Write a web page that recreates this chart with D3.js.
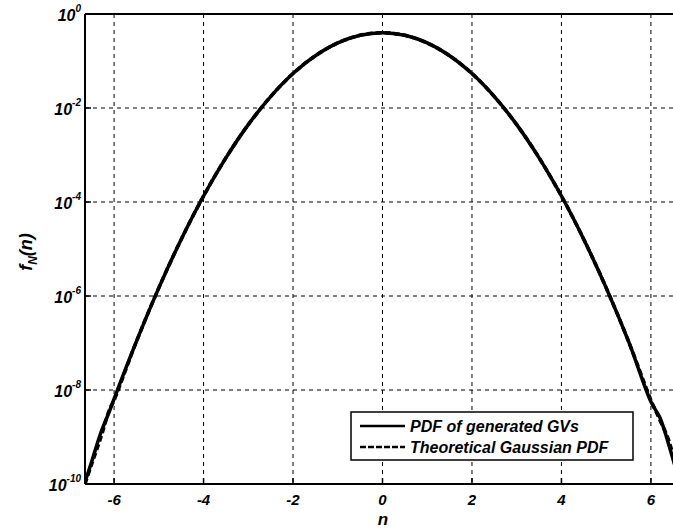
<!DOCTYPE html>
<html>
<head>
  <meta charset="utf-8">
  <style>
    body { margin: 0; background: #fff; }
    svg { display: block; font-family: "Liberation Sans", Arial, sans-serif; }
    .tick-label { font-weight: bold; font-style: italic; }
  </style>
</head>
<body>
  <svg width="673" height="529"></svg>
  <script src="https://cdn.jsdelivr.net/npm/d3@7"></script>
  <script>
    // n values
    var nValues = [-6.65, -6.5, -6.3, -6.1, -6, -5.5, -5, -4.5, -4, -3.5, -3, -2.5, -2, -1.5, -1, -0.5, 0,
      0.5, 1, 1.5, 2, 2.5, 3, 3.5, 4, 4.5, 5, 5.5, 6, 6.2, 6.4, 6.65];
    // PDF of generated GVs
    var generatedPdf = [1.1e-10, 3.0e-10, 1.2e-9, 3.6e-9, 6.5e-9, 1.08e-7, 1.49e-6, 1.6e-5, 1.34e-4, 8.7e-4, 4.43e-3, 1.75e-2, 5.4e-2, 0.1295, 0.242, 0.352, 0.399,
      0.352, 0.242, 0.1295, 5.4e-2, 1.75e-2, 4.43e-3, 8.7e-4, 1.34e-4, 1.6e-5, 1.49e-6, 1.08e-7, 5.6e-9, 2.6e-9, 6.8e-10, 1.0e-10];
    // theoretical Gaussian PDF
    var theoreticalPdf = [1.0e-10, 2.67e-10, 9.5e-10, 3.9e-9, 6.08e-9, 1.08e-7, 1.49e-6, 1.6e-5, 1.34e-4, 8.73e-4, 4.43e-3, 1.75e-2, 5.4e-2, 0.1295, 0.242, 0.352, 0.399,
      0.352, 0.242, 0.1295, 5.4e-2, 1.75e-2, 4.43e-3, 8.73e-4, 1.34e-4, 1.6e-5, 1.49e-6, 1.08e-7, 6.08e-9, 2.3e-9, 8.4e-10, 1.0e-10];
    var xTicks = [-6, -4, -2, 0, 2, 4, 6];
    var yExponents = [0, -2, -4, -6, -8, -10];
    var legendLabels = ["PDF of generated GVs", "Theoretical Gaussian PDF"];

    var svg = d3.select("svg");
    var plotLeft = 85, plotTop = 14, plotRight = 680, plotBottom = 484;

    var x = d3.scaleLinear().domain([-6.65, 6.65]).range([plotLeft, plotRight]);
    var y = d3.scaleLog().domain([1e-10, 1]).range([plotBottom, plotTop]);

    // grid
    var grid = svg.append("g").attr("stroke", "#000").attr("stroke-width", 1).attr("stroke-dasharray", "4,4");
    grid.selectAll(".gx").data(xTicks).enter().append("line")
      .attr("x1", function (d) { return x(d); }).attr("x2", function (d) { return x(d); })
      .attr("y1", plotTop).attr("y2", plotBottom);
    grid.selectAll(".gy").data(yExponents.slice(1, -1)).enter().append("line")
      .attr("x1", plotLeft).attr("x2", plotRight)
      .attr("y1", function (d) { return y(Math.pow(10, d)); })
      .attr("y2", function (d) { return y(Math.pow(10, d)); });

    // axes frame
    svg.append("line").attr("x1", plotLeft).attr("x2", plotLeft).attr("y1", plotTop).attr("y2", plotBottom)
      .attr("stroke", "#000").attr("stroke-width", 2);
    svg.append("line").attr("x1", plotLeft).attr("x2", plotRight).attr("y1", plotTop).attr("y2", plotTop)
      .attr("stroke", "#000").attr("stroke-width", 2);
    svg.append("line").attr("x1", plotLeft).attr("x2", plotRight).attr("y1", plotBottom).attr("y2", plotBottom)
      .attr("stroke", "#000").attr("stroke-width", 2);

    // x ticks
    var xt = svg.append("g");
    xt.selectAll("line").data(xTicks).enter().append("line")
      .attr("x1", function (d) { return x(d); }).attr("x2", function (d) { return x(d); })
      .attr("y1", plotBottom).attr("y2", plotBottom - 6).attr("stroke", "#000").attr("stroke-width", 1.5);
    xt.selectAll("text").data(xTicks).enter().append("text")
      .attr("class", "tick-label")
      .attr("x", function (d) { return x(d); })
      .attr("y", 505)
      .attr("text-anchor", "middle")
      .attr("font-size", 15)
      .text(function (d) { return d; });

    // y ticks
    var yt = svg.append("g");
    yt.selectAll("line").data(yExponents).enter().append("line")
      .attr("x1", plotLeft).attr("x2", plotLeft + 6)
      .attr("y1", function (d) { return y(Math.pow(10, d)); })
      .attr("y2", function (d) { return y(Math.pow(10, d)); })
      .attr("stroke", "#000").attr("stroke-width", 1.5);
    var yl = yt.selectAll("text").data(yExponents).enter().append("text")
      .attr("class", "tick-label")
      .attr("x", 81)
      .attr("y", function (d) { return y(Math.pow(10, d)) + 7; })
      .attr("text-anchor", "end")
      .attr("font-size", 16);
    yl.append("tspan").text("10");
    yl.append("tspan").attr("dy", -9).attr("font-size", 10).text(function (d) { return d; });

    // curves
    var line = d3.line()
      .x(function (d) { return x(d[0]); })
      .y(function (d) { return y(d[1]); })
      .curve(d3.curveCatmullRom);

    svg.append("clipPath").attr("id", "plot").append("rect")
      .attr("x", plotLeft).attr("y", plotTop).attr("width", plotRight - plotLeft).attr("height", plotBottom - plotTop);

    svg.append("path")
      .datum(nValues.map(function (n, i) { return [n, theoreticalPdf[i]]; }))
      .attr("clip-path", "url(#plot)")
      .attr("fill", "none").attr("stroke", "#000").attr("stroke-width", 3.5)
      .attr("stroke-dasharray", "6,3")
      .attr("d", line);
    svg.append("path")
      .datum(nValues.map(function (n, i) { return [n, generatedPdf[i]]; }))
      .attr("clip-path", "url(#plot)")
      .attr("fill", "none").attr("stroke", "#000").attr("stroke-width", 3.5)
      .attr("d", line);

    // legend
    var legend = svg.append("g").attr("transform", "translate(351,412)");
    legend.append("rect").attr("width", 282).attr("height", 48)
      .attr("fill", "#fff").attr("stroke", "#000").attr("stroke-width", 1.5);
    var item = legend.selectAll(".item").data(legendLabels).enter().append("g")
      .attr("transform", function (d, i) { return "translate(0," + (14 + i * 21) + ")"; });
    item.append("line").attr("x1", 9).attr("x2", 54).attr("y1", 0).attr("y2", 0)
      .attr("stroke", "#000").attr("stroke-width", 2.5)
      .attr("stroke-dasharray", function (d, i) { return i ? "6,2" : null; });
    item.append("text").attr("class", "tick-label")
      .attr("x", 59).attr("y", 5.5).attr("font-size", 16)
      .text(function (d) { return d; });

    // axis titles
    svg.append("text").attr("class", "tick-label")
      .attr("x", 383).attr("y", 525).attr("text-anchor", "middle").attr("font-size", 17)
      .text("n");
    var yTitle = svg.append("text").attr("class", "tick-label")
      .attr("transform", "translate(32,252)rotate(-90)")
      .attr("text-anchor", "middle").attr("font-size", 18);
    yTitle.append("tspan").text("f");
    yTitle.append("tspan").attr("dy", 5).attr("font-size", 12).text("N");
    yTitle.append("tspan").attr("dy", -5).text("(n)");
  </script>
</body>
</html>
